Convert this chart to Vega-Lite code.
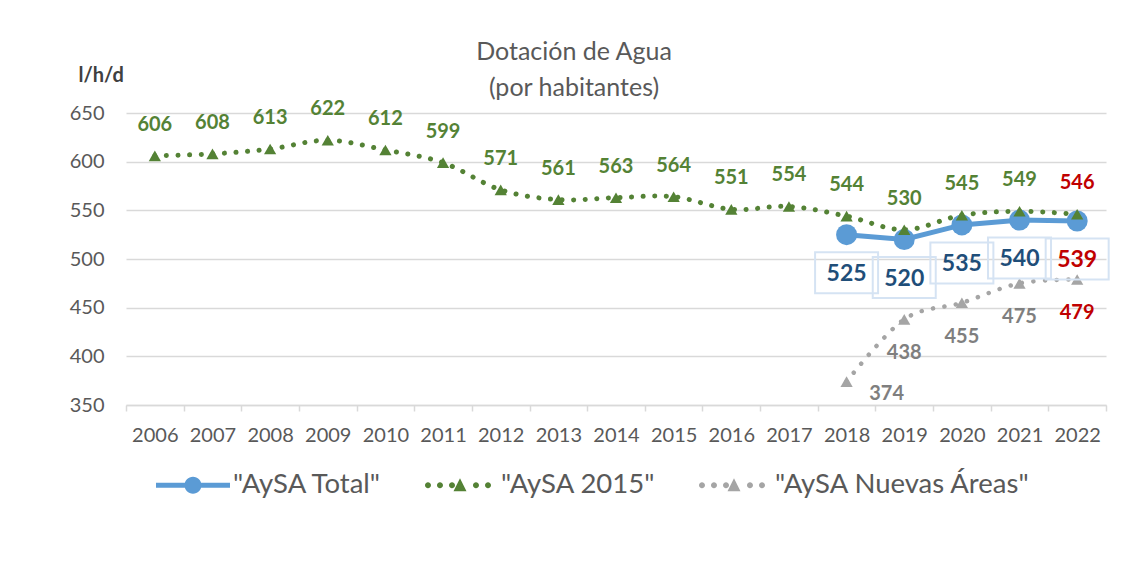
{
  "$schema": "https://vega.github.io/schema/vega-lite/v6.json",
  "autosize": {"type": "none"},
  "padding": {"left": 126, "top": 113, "right": 26, "bottom": 165},
  "width": 980,
  "height": 292,
  "background": "white",
  "config": {
    "view": {"stroke": null},
    "font": "Lato",
    "legend": {"symbolStrokeWidth": 0}
  },
  "title": {
    "text": ["Dotación de Agua", "(por habitantes)"],
    "fontSize": 25,
    "fontWeight": "normal",
    "font": "Lato",
    "color": "#595959",
    "anchor": "middle",
    "frame": "group",
    "dx": -42,
    "lineHeight": 36,
    "offset": -36
  },
  "data": {
    "values": [
      {"year": "2018", "serie": "AySA Nuevas Áreas", "value": 374},
      {"year": "2019", "serie": "AySA Nuevas Áreas", "value": 438},
      {"year": "2020", "serie": "AySA Nuevas Áreas", "value": 455},
      {"year": "2021", "serie": "AySA Nuevas Áreas", "value": 475},
      {"year": "2022", "serie": "AySA Nuevas Áreas", "value": 479},
      {"year": "2018", "serie": "AySA Total", "value": 525},
      {"year": "2019", "serie": "AySA Total", "value": 520},
      {"year": "2020", "serie": "AySA Total", "value": 535},
      {"year": "2021", "serie": "AySA Total", "value": 540},
      {"year": "2022", "serie": "AySA Total", "value": 539},
      {"year": "2006", "serie": "AySA 2015", "value": 606},
      {"year": "2007", "serie": "AySA 2015", "value": 608},
      {"year": "2008", "serie": "AySA 2015", "value": 613},
      {"year": "2009", "serie": "AySA 2015", "value": 622},
      {"year": "2010", "serie": "AySA 2015", "value": 612},
      {"year": "2011", "serie": "AySA 2015", "value": 599},
      {"year": "2012", "serie": "AySA 2015", "value": 571},
      {"year": "2013", "serie": "AySA 2015", "value": 561},
      {"year": "2014", "serie": "AySA 2015", "value": 563},
      {"year": "2015", "serie": "AySA 2015", "value": 564},
      {"year": "2016", "serie": "AySA 2015", "value": 551},
      {"year": "2017", "serie": "AySA 2015", "value": 554},
      {"year": "2018", "serie": "AySA 2015", "value": 544},
      {"year": "2019", "serie": "AySA 2015", "value": 530},
      {"year": "2020", "serie": "AySA 2015", "value": 545},
      {"year": "2021", "serie": "AySA 2015", "value": 549},
      {"year": "2022", "serie": "AySA 2015", "value": 546}
    ]
  },
  "encoding": {
    "x": {
      "field": "year",
      "type": "ordinal",
      "scale": {"type": "band", "paddingInner": 0, "paddingOuter": 0},
      "axis": {
        "title": null,
        "labelAngle": 0,
        "labelFont": "Lato",
        "labelFontSize": 20,
        "labelColor": "#595959",
        "labelPadding": 14,
        "tickBand": "extent",
        "ticks": true,
        "tickSize": 6,
        "tickColor": "#d9d9d9",
        "tickWidth": 1.5,
        "domain": true,
        "domainColor": "#d9d9d9",
        "domainWidth": 1.5,
        "grid": false
      }
    },
    "y": {
      "field": "value",
      "type": "quantitative",
      "scale": {"domain": [350, 650], "nice": false, "zero": false},
      "axis": {
        "values": [350, 400, 450, 500, 550, 600, 650],
        "title": "l/h/d",
        "titleAngle": 0,
        "titleX": -48,
        "titleY": -38,
        "titleAlign": "left",
        "titleBaseline": "middle",
        "titleFont": "Lato",
        "titleFontSize": 20,
        "titleFontWeight": "bold",
        "titleColor": "#404040",
        "labelFont": "Lato",
        "labelFontSize": 20,
        "labelColor": "#595959",
        "labelPadding": 22,
        "ticks": false,
        "domain": false,
        "grid": true,
        "gridColor": "#d9d9d9",
        "gridWidth": 1.5
      }
    }
  },
  "layer": [
    {
      "transform": [{"filter": "datum.serie === 'AySA Nuevas Áreas'"}],
      "mark": {"type": "line", "color": "#A5A5A5", "strokeWidth": 4.5, "strokeCap": "round", "strokeDash": [0.1, 11.5], "interpolate": "cardinal"}
    },
    {
      "transform": [{"filter": "datum.serie === 'AySA Total'"}],
      "mark": {"type": "line", "color": "#5B9BD5", "strokeWidth": 5, "strokeCap": "round"}
    },
    {
      "transform": [{"filter": "datum.serie === 'AySA 2015'"}],
      "mark": {"type": "line", "color": "#548235", "strokeWidth": 5, "strokeCap": "round", "strokeDash": [0.1, 11.5], "interpolate": "cardinal"}
    },
    {
      "transform": [{"filter": "datum.serie === 'AySA Nuevas Áreas'"}],
      "mark": {"type": "point", "shape": "triangle-up", "filled": true, "color": "#A5A5A5", "size": 150, "opacity": 1, "strokeWidth": 0}
    },
    {
      "transform": [{"filter": "datum.serie === 'AySA Total'"}],
      "mark": {"type": "point", "shape": "circle", "filled": true, "color": "#5B9BD5", "size": 441, "opacity": 1, "strokeWidth": 0}
    },
    {
      "transform": [{"filter": "datum.serie === 'AySA 2015'"}],
      "mark": {"type": "point", "shape": "triangle-up", "filled": true, "color": "#548235", "size": 150, "opacity": 1, "strokeWidth": 0}
    },
    {
      "transform": [{"filter": "datum.serie === 'AySA Total'"}],
      "mark": {"type": "point", "shape": "M-1,-0.65L1,-0.65L1,0.65L-1,0.65Z", "filled": false, "stroke": "#d5e3f3", "strokeWidth": 2, "size": 3969, "opacity": 1, "yOffset": 38}
    },
    {
      "transform": [{"filter": "datum.serie === 'AySA 2015'"}],
      "mark": {"type": "text", "font": "Lato", "fontSize": 20, "fontWeight": "bold", "baseline": "middle", "align": "center", "dy": -31},
      "encoding": {
        "text": {"field": "value", "type": "quantitative"},
        "color": {"condition": {"test": "datum.year === '2022'", "value": "#C00000"}, "value": "#548235"}
      }
    },
    {
      "transform": [{"filter": "datum.serie === 'AySA Total'"}],
      "mark": {"type": "text", "font": "Lato", "fontSize": 23, "fontWeight": "bold", "baseline": "middle", "align": "center", "dy": 39},
      "encoding": {
        "text": {"field": "value", "type": "quantitative"},
        "color": {"condition": {"test": "datum.year === '2022'", "value": "#C00000"}, "value": "#1F4E79"}
      }
    },
    {
      "transform": [{"filter": "datum.serie === 'AySA Nuevas Áreas' && datum.year !== '2018'"}],
      "mark": {"type": "text", "font": "Lato", "fontSize": 20, "fontWeight": "bold", "baseline": "middle", "align": "center", "dy": 34},
      "encoding": {
        "text": {"field": "value", "type": "quantitative"},
        "color": {"condition": {"test": "datum.year === '2022'", "value": "#C00000"}, "value": "#7F7F7F"}
      }
    },
    {
      "transform": [{"filter": "datum.serie === 'AySA Nuevas Áreas' && datum.year === '2018'"}],
      "mark": {"type": "text", "font": "Lato", "fontSize": 20, "fontWeight": "bold", "baseline": "middle", "align": "center", "dx": 40, "dy": 12, "color": "#7F7F7F"},
      "encoding": {
        "text": {"field": "value", "type": "quantitative"}
      }
    },
    {
      "transform": [{"filter": "false"}],
      "mark": {"type": "point", "filled": true, "opacity": 1, "strokeWidth": 0},
      "encoding": {
        "color": {
          "field": "serie",
          "type": "nominal",
          "scale": {"domain": ["AySA Total", "AySA 2015", "AySA Nuevas Áreas"], "range": ["#5B9BD5", "#548235", "#A5A5A5"]},
          "legend": {
            "orient": "none",
            "legendX": 30,
            "legendY": 335,
            "direction": "horizontal",
            "title": null,
            "symbolSize": 5476,
            "symbolStrokeWidth": 0,
            "symbolOpacity": 1,
            "labelOffset": 3,
            "columnPadding": 42,
            "labelFont": "Lato",
            "labelFontSize": 27.5,
            "labelColor": "#595959",
            "labelExpr": "'\"' + datum.label + '\"'",
            "labelLimit": 400
          }
        },
        "shape": {
          "field": "serie",
          "type": "nominal",
          "scale": {
            "domain": ["AySA Total", "AySA 2015", "AySA Nuevas Áreas"],
            "range": [
              "M-1,-0.068L1,-0.068L1,0.068L-1,0.068Z M0.23,0A0.23,0.23,0,1,1,-0.23,0A0.23,0.23,0,1,1,0.23,0Z",
              "M-0.811,0A0.081,0.081,0,1,1,-0.973,0A0.081,0.081,0,1,1,-0.811,0Z M-0.487,0A0.081,0.081,0,1,1,-0.649,0A0.081,0.081,0,1,1,-0.487,0Z M-0.162,0A0.081,0.081,0,1,1,-0.324,0A0.081,0.081,0,1,1,-0.162,0Z M0.486,0A0.081,0.081,0,1,1,0.324,0A0.081,0.081,0,1,1,0.486,0Z M0.811,0A0.081,0.081,0,1,1,0.649,0A0.081,0.081,0,1,1,0.811,0Z M-0.027,-0.19L0.149,0.162L-0.203,0.162Z",
              "M-0.811,0A0.081,0.081,0,1,1,-0.973,0A0.081,0.081,0,1,1,-0.811,0Z M-0.487,0A0.081,0.081,0,1,1,-0.649,0A0.081,0.081,0,1,1,-0.487,0Z M-0.162,0A0.081,0.081,0,1,1,-0.324,0A0.081,0.081,0,1,1,-0.162,0Z M0.486,0A0.081,0.081,0,1,1,0.324,0A0.081,0.081,0,1,1,0.486,0Z M0.811,0A0.081,0.081,0,1,1,0.649,0A0.081,0.081,0,1,1,0.811,0Z M-0.027,-0.19L0.149,0.162L-0.203,0.162Z"
            ]
          }
        }
      }
    }
  ]
}
